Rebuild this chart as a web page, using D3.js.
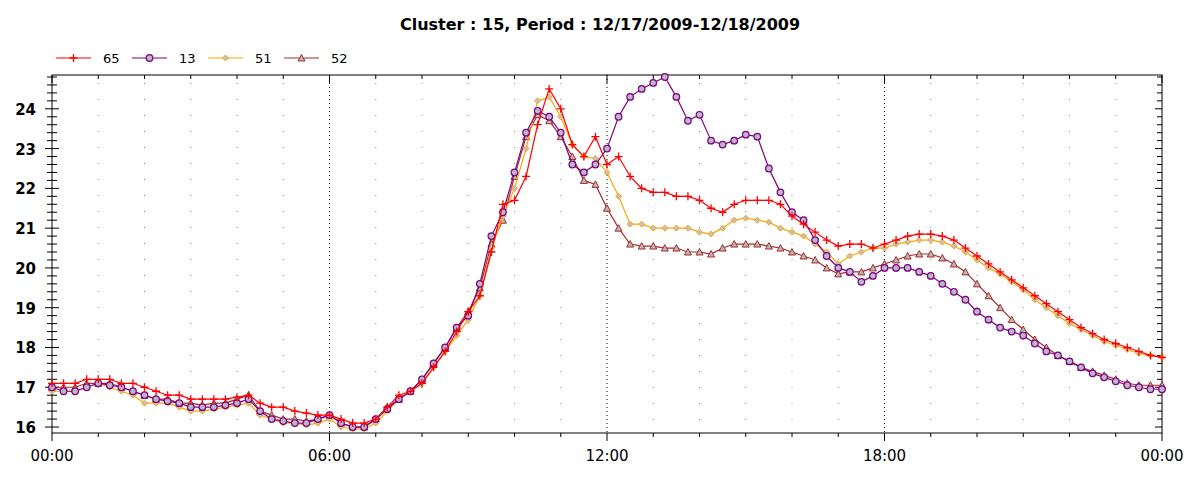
<!DOCTYPE html>
<html><head><meta charset="utf-8">
<script src="https://cdn.jsdelivr.net/npm/d3@7"></script>
<style>body{margin:0;background:#fff;font-family:"DejaVu Sans",Verdana,sans-serif}</style>
</head><body><div id="chart"></div>
<script>
// ------------ DATA (15-minute steps, 00:00 to 24:00) ------------
var seriesNames = ["65", "13", "51", "52"];
var s65 = [17.1,17.1,17.1,17.2, 17.2,17.2,17.1,17.1, 17.0,16.9,16.8,16.8, 16.7,16.7,16.7,16.7, 16.75,16.8,16.6,16.5, 16.5,16.4,16.35,16.3, 16.3,16.2,16.1,16.1, 16.2,16.5,16.8,16.9, 17.1,17.5,17.9,18.4, 18.9,19.3,20.4,21.6, 21.7,22.3,23.6,24.5, 24.0,23.1,22.8,23.3, 22.6,22.8,22.3,22.0, 21.9,21.9,21.8,21.8, 21.7,21.5,21.4,21.6, 21.7,21.7,21.7,21.6, 21.3,21.1,20.9,20.7, 20.55,20.6,20.6,20.5, 20.6,20.7,20.8,20.85, 20.85,20.8,20.7,20.5, 20.3,20.1,19.9,19.7, 19.5,19.3,19.1,18.9, 18.7,18.5,18.35,18.2, 18.1,18.0,17.9,17.8, 17.75];
var s13 = [17.0,16.9,16.9,17.0, 17.1,17.05,17.0,16.9, 16.8,16.7,16.65,16.6, 16.5,16.5,16.5,16.55, 16.6,16.7,16.4,16.2, 16.15,16.1,16.1,16.2, 16.3,16.1,16.0,16.0, 16.2,16.45,16.7,16.9, 17.2,17.6,18.0,18.5, 18.8,19.6,20.8,21.4, 22.4,23.4,23.95,23.8, 23.4,22.6,22.4,22.6, 23.0,23.8,24.3,24.5, 24.65,24.8,24.3,23.7, 23.85,23.2,23.1,23.2, 23.35,23.3,22.5,21.9, 21.4,21.2,20.7,20.3, 20.0,19.9,19.65,19.8, 20.0,20.0,20.0,19.9, 19.8,19.6,19.4,19.2, 18.9,18.7,18.5,18.4, 18.3,18.1,17.9,17.8, 17.65,17.5,17.35,17.25, 17.15,17.05,17.0,16.95, 16.95];
var s51 = [16.9,16.9,16.9,17.0, 17.1,17.0,16.9,16.8, 16.6,16.6,16.6,16.5, 16.4,16.4,16.45,16.5, 16.55,16.6,16.3,16.2, 16.1,16.1,16.05,16.1, 16.2,16.0,15.95,15.95, 16.1,16.4,16.7,16.9, 17.1,17.5,17.9,18.3, 18.7,19.3,20.5,21.3, 22.0,23.0,24.2,24.3, 23.8,23.1,22.8,22.75, 22.4,21.8,21.1,21.1, 21.0,21.0,21.0,21.0, 20.9,20.85,21.0,21.2, 21.25,21.2,21.15,21.0, 20.9,20.8,20.6,20.4, 20.1,20.3,20.4,20.5, 20.5,20.6,20.65,20.7, 20.7,20.65,20.55,20.4, 20.2,20.0,19.85,19.65, 19.45,19.2,19.0,18.8, 18.6,18.45,18.3,18.15, 18.05,17.95,17.85,17.8, 17.75];
var s52 = [17.0,17.0,17.0,17.1, 17.1,17.1,17.0,16.9, 16.8,16.7,16.7,16.6, 16.6,16.55,16.6,16.6, 16.7,16.8,16.4,16.3, 16.2,16.2,16.15,16.2, 16.3,16.1,16.0,16.0, 16.2,16.5,16.7,16.9, 17.2,17.6,18.0,18.5, 18.9,19.5,20.6,21.2, 22.3,23.3,23.85,23.7, 23.3,22.8,22.2,22.1, 21.5,21.0,20.6,20.55, 20.55,20.5,20.5,20.4, 20.4,20.35,20.5,20.6, 20.6,20.6,20.55,20.5, 20.4,20.3,20.2,20.0, 19.85,19.9,19.9,20.0, 20.1,20.2,20.3,20.35, 20.35,20.25,20.1,19.9, 19.6,19.3,19.0,18.7, 18.45,18.2,18.0,17.8, 17.65,17.5,17.4,17.3, 17.2,17.1,17.05,17.05, 17.05];
var xTickLabels = ["00:00", "06:00", "12:00", "18:00", "00:00"];
var yTicks = [16, 17, 18, 19, 20, 21, 22, 23, 24];

var allSeries = [s65, s13, s51, s52];
var colors = ["#ff0000", "#800080", "#ffa500", "#a52a2a"];
var markers = ["plus", "circle", "diamond", "triangle"];

// ------------ CHART FORMATTING ------------
var svgWidth = 1200, svgHeight = 480;
var margin = {top: 75, right: 38, bottom: 47, left: 52};
var chartWidth = svgWidth - margin.left - margin.right;
var chartHeight = svgHeight - margin.top - margin.bottom;

var svg = d3.select("#chart").append("svg")
  .attr("width", svgWidth).attr("height", svgHeight);
var chartGroup = svg.append("g")
  .attr("transform", `translate(${margin.left}, ${margin.top})`);

var x = d3.scaleLinear().domain([0, 24]).range([0, chartWidth]);
var y = d3.scaleLinear().domain([15.85, 24.85]).range([chartHeight, 0]);

// grid (dotted verticals each hour)
d3.range(1, 24).forEach(function(h) {
  chartGroup.append("line")
    .attr("x1", x(h)).attr("x2", x(h)).attr("y1", 0).attr("y2", chartHeight)
    .attr("stroke", h % 6 == 0 ? "#000" : "#888")
    .attr("stroke-dasharray", h % 6 == 0 ? "1,3" : "1,15")
    .attr("stroke-dashoffset", -8);
});

// frame
chartGroup.append("rect").attr("width", chartWidth).attr("height", chartHeight)
  .attr("fill", "none").attr("stroke", "#000");

// y ticks (minor every 0.2, both sides)
d3.range(16, 24.81, 0.2).forEach(function(v) {
  var major = Math.abs(v - Math.round(v)) < 1e-6;
  var len = major ? 7 : 5;
  chartGroup.append("line").attr("x1", -len).attr("x2", len)
    .attr("y1", y(v)).attr("y2", y(v)).attr("stroke", "#000");
  chartGroup.append("line").attr("x1", chartWidth - len).attr("x2", chartWidth)
    .attr("y1", y(v)).attr("y2", y(v)).attr("stroke", "#000");
});
yTicks.forEach(function(v) {
  chartGroup.append("text").attr("x", -16).attr("y", y(v) + 6)
    .attr("text-anchor", "end").attr("font-size", "15px").attr("font-weight", "bold")
    .text(v);
});

// x ticks
d3.range(0, 25).forEach(function(h) {
  var len = h % 6 == 0 ? 8 : 4;
  chartGroup.append("line").attr("x1", x(h)).attr("x2", x(h))
    .attr("y1", chartHeight).attr("y2", chartHeight + len).attr("stroke", "#000");
  chartGroup.append("line").attr("x1", x(h)).attr("x2", x(h))
    .attr("y1", 0).attr("y2", len).attr("stroke", "#000");
});
xTickLabels.forEach(function(t, i) {
  chartGroup.append("text").attr("x", x(i * 6)).attr("y", chartHeight + 28)
    .attr("text-anchor", "middle").attr("font-size", "15px").text(t);
});

// ------------ LINES + MARKERS ------------
function drawMarker(g, type, color) {
  if (type == "plus") {
    g.append("path").attr("d", "M-4,0H4M0,-4V4").attr("stroke", color).attr("stroke-width", 1.3);
  } else if (type == "circle") {
    g.append("circle").attr("r", 3.3).attr("fill", "#b8b8c8").attr("stroke", color).attr("stroke-width", 1.2);
  } else if (type == "diamond") {
    g.append("path").attr("d", "M0,-3L3,0L0,3L-3,0Z").attr("fill", "#c0c0d0").attr("stroke", color);
  } else {
    g.append("path").attr("d", "M0,-3.5L3.5,3L-3.5,3Z").attr("fill", "#b8b8b8").attr("stroke", color);
  }
}

var line = d3.line().x((d, i) => x(i / 4)).y(d => y(d));
var plotOrder = [3, 2, 1, 0];
plotOrder.forEach(function(k) {
  var data = allSeries[k];
  chartGroup.append("path").datum(data).attr("d", line)
    .attr("fill", "none").attr("stroke", colors[k]).attr("stroke-width", 1.2);
  data.forEach(function(d, i) {
    var g = chartGroup.append("g").attr("transform", `translate(${x(i / 4)},${y(d)})`);
    drawMarker(g, markers[k], colors[k]);
  });
});

// ------------ TITLE & LEGEND ------------
svg.append("text").attr("x", 600).attr("y", 30).attr("text-anchor", "middle")
  .attr("font-size", "16px").attr("font-weight", "bold")
  .text("Cluster : 15, Period : 12/17/2009-12/18/2009");

seriesNames.forEach(function(n, i) {
  var lx = 56 + i * 76;
  svg.append("line").attr("x1", lx).attr("x2", lx + 35).attr("y1", 58).attr("y2", 58)
    .attr("stroke", colors[i]).attr("stroke-width", 1.2);
  var g = svg.append("g").attr("transform", `translate(${lx + 17.5},58)`);
  drawMarker(g, markers[i], colors[i]);
  svg.append("text").attr("x", lx + 47).attr("y", 63).attr("font-size", "13px").text(n);
});
</script></body></html>
